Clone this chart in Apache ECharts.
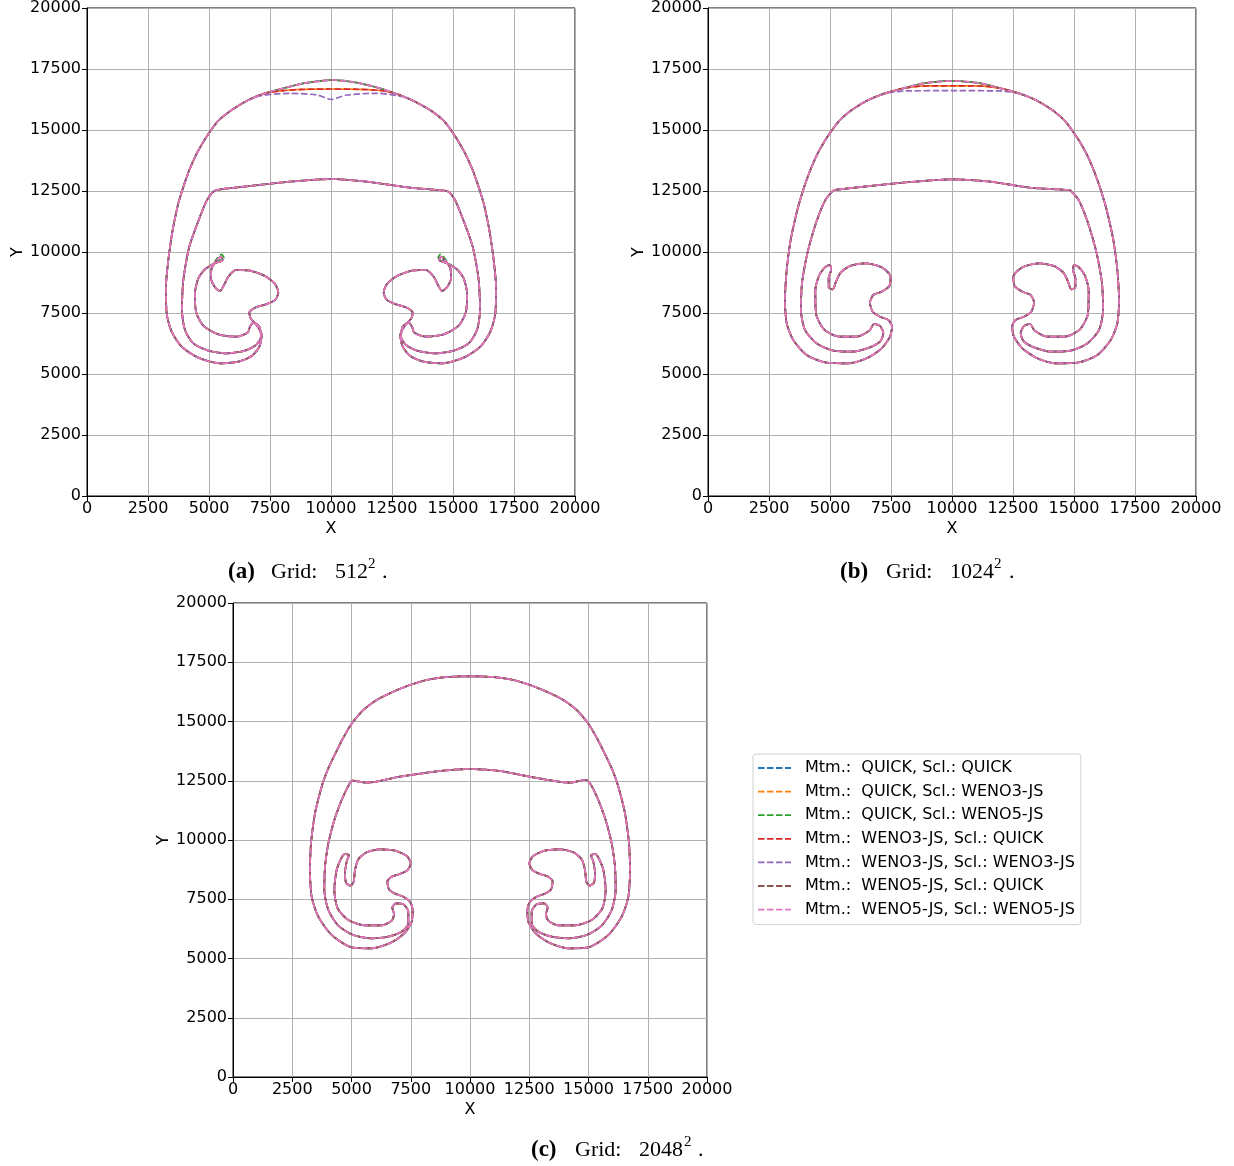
<!DOCTYPE html>
<html>
<head>
<meta charset="utf-8">
<script src="https://cdn.jsdelivr.net/npm/echarts@6/dist/echarts.min.js"></script>
<style>
  html, body { margin: 0; padding: 0; background: #fff; }
  #chart { width: 1234px; height: 1166px; }
</style>
</head>
<body>
<div id="chart"></div>
<script>
// Axis ticks shared by all three panels
const TICKS = [0, 2500, 5000, 7500, 10000, 12500, 15000, 17500, 20000];

// Scheme combinations (momentum / scalar advection)
const SERIES_NAMES = [
  'Mtm.:  QUICK, Scl.: QUICK',
  'Mtm.:  QUICK, Scl.: WENO3-JS',
  'Mtm.:  QUICK, Scl.: WENO5-JS',
  'Mtm.:  WENO3-JS, Scl.: QUICK',
  'Mtm.:  WENO3-JS, Scl.: WENO3-JS',
  'Mtm.:  WENO5-JS, Scl.: QUICK',
  'Mtm.:  WENO5-JS, Scl.: WENO5-JS'
];

// ---------- Grid 512^2 ----------
// cap of the bubble, traversed right -> left
const domeA_main = [[15800,13380],[15520,14000],[15240,14500],[14950,14950],[14600,15400],[14057,15819],[13306,16230],[12623,16503],[12008,16708],[11188,16913],[10505,17022],[10027,17049],[9686,17022],[8866,16913],[8046,16708],[7295,16503],[6612,16230],[5929,15819],[5400,15400],[5050,14950],[4760,14500],[4480,14000],[4200,13380]];
const domeA_low  = [[15800,13380],[15520,14000],[15240,14500],[14950,14950],[14600,15400],[14057,15819],[13306,16230],[12623,16503],[12008,16620],[11188,16665],[10027,16680],[8866,16665],[8046,16615],[7295,16503],[6612,16230],[5929,15819],[5400,15400],[5050,14950],[4760,14500],[4480,14000],[4200,13380]];
const domeA_dip  = [[15800,13380],[15520,14000],[15240,14500],[14950,14950],[14600,15400],[14057,15819],[13306,16230],[12964,16366],[11871,16503],[10642,16435],[10027,16257],[9413,16435],[8320,16503],[7090,16400],[6612,16230],[5929,15819],[5400,15400],[5050,14950],[4760,14500],[4480,14000],[4200,13380]];
// left rotor: outer flank down, spiral in and out, up to the inner front
const leftA = [[3960,12700],[3743,11995],[3511,10902],[3333,9672],[3238,8580],[3265,7487],[3470,6735],[3880,6120],[4563,5670],[5451,5437],[6202,5505],[6749,5738],[7063,6120],[7158,6599],[6981,6968],[6708,7282],[6653,7514],[6885,7719],[7336,7855],[7705,8033],[7841,8334],[7705,8689],[7295,9017],[6680,9235],[6107,9263],[5792,8989],[5615,8648],[5451,8402],[5246,8552],[5082,8921],[5109,9331],[5314,9645],[5492,9809],[5560,9672],[5246,9536],[4836,9290],[4563,8921],[4426,8306],[4467,7555],[4768,6981],[5383,6626],[6107,6530],[6585,6694],[6680,6940],[6817,7104],[7063,6940],[7131,6530],[6926,6189],[6475,5957],[5724,5847],[4973,5957],[4358,6257],[4016,6804],[3893,7623],[3948,8853],[4194,10219],[4631,11448],[4904,12104],[5109,12405]];
// hook at the tip of the left roll for Mtm. QUICK / Scl. WENO5-JS
const tipA_left_weno5 = [[5330,9730],[5520,9900],[5610,9760],[5280,9590]];
// inner front, left -> right
const innerA = [[5314,12541],[6680,12705],[8320,12882],[10027,12992],[11462,12882],[13238,12637],[14741,12500]];
// right rotor: from the inner front down, spiral, out to the outer flank
const rightA = [[14891,12405],[15096,12104],[15369,11448],[15806,10219],[16052,8853],[16107,7623],[15984,6804],[15642,6257],[15027,5957],[14276,5847],[13525,5957],[13074,6189],[12869,6530],[12937,6940],[13183,7104],[13320,6940],[13415,6694],[13893,6530],[14617,6626],[15232,6981],[15533,7555],[15574,8306],[15437,8921],[15164,9290],[14754,9536],[14440,9672],[14508,9809],[14686,9645],[14891,9331],[14918,8921],[14754,8552],[14549,8402],[14385,8648],[14208,8989],[13893,9263],[13320,9235],[12705,9017],[12295,8689],[12159,8334],[12295,8033],[12664,7855],[13115,7719],[13347,7514],[13292,7282],[13019,6968],[12842,6599],[12937,6120],[13251,5738],[13798,5505],[14549,5437],[15437,5670],[16120,6120],[16530,6735],[16735,7487],[16762,8580],[16667,9672],[16489,10902],[16257,11995],[16040,12700]];
const tipA_right_weno5 = [[14720,9590],[14390,9760],[14480,9900],[14670,9730]];

// ---------- Grid 1024^2 ----------
const domeB_main = [[15830,13300],[15550,13950],[15260,14480],[14950,14950],[14600,15400],[14112,15819],[13429,16230],[12746,16503],[11995,16708],[11175,16913],[10355,17000],[10000,17008],[9645,17000],[8825,16913],[8005,16708],[7254,16503],[6571,16230],[5888,15819],[5400,15400],[5050,14950],[4740,14480],[4450,13950],[4170,13300]];
const domeB_low  = [[15830,13300],[15550,13950],[15260,14480],[14950,14950],[14600,15400],[14112,15819],[13429,16230],[12746,16503],[11995,16708],[11300,16795],[10000,16810],[8700,16795],[8005,16708],[7254,16503],[6571,16230],[5888,15819],[5400,15400],[5050,14950],[4740,14480],[4450,13950],[4170,13300]];
const domeB_dip  = [[15830,13300],[15550,13950],[15260,14480],[14950,14950],[14600,15400],[14112,15819],[13429,16230],[12746,16503],[11900,16600],[10000,16612],[8100,16600],[7254,16503],[6571,16230],[5888,15819],[5400,15400],[5050,14950],[4740,14480],[4450,13950],[4170,13300]];
const leftB = [[3920,12600],[3661,11722],[3388,10492],[3224,9263],[3156,8033],[3224,7077],[3497,6394],[4044,5779],[4863,5465],[5751,5437],[6503,5642],[7117,6053],[7459,6530],[7541,6940],[7391,7213],[7049,7350],[6749,7555],[6639,7924],[6776,8238],[7117,8375],[7432,8607],[7486,8989],[7117,9372],[6435,9536],[5820,9426],[5437,9153],[5246,8785],[5109,8470],[4945,8552],[4945,8921],[5041,9263],[5000,9468],[4795,9372],[4563,9057],[4399,8443],[4426,7487],[4754,6831],[5383,6530],[6093,6530],[6612,6776],[6803,7049],[7049,6968],[7186,6667],[7049,6325],[6639,6093],[5956,5916],[5137,5957],[4453,6257],[3975,6804],[3811,7623],[3852,8716],[4071,9946],[4426,11192],[4795,12104],[5137,12514]];
const innerB = [[5410,12569],[6639,12705],[8279,12869],[10014,12978],[11557,12883],[13197,12637],[14768,12541]];
const rightB = [[14863,12514],[15205,12104],[15574,11192],[15929,9946],[16148,8716],[16189,7623],[16025,6804],[15547,6257],[14863,5957],[14044,5916],[13361,6093],[12951,6325],[12814,6667],[12951,6968],[13197,7049],[13388,6776],[13907,6530],[14617,6530],[15246,6831],[15574,7487],[15601,8443],[15437,9057],[15205,9372],[15000,9468],[14959,9263],[15055,8921],[15055,8552],[14891,8470],[14754,8785],[14563,9153],[14180,9426],[13565,9536],[12883,9372],[12514,8989],[12568,8607],[12883,8375],[13224,8238],[13361,7924],[13251,7555],[12951,7350],[12609,7213],[12459,6940],[12541,6530],[12883,6053],[13497,5642],[14249,5437],[15137,5465],[15956,5779],[16503,6394],[16776,7077],[16844,8033],[16776,9263],[16612,10492],[16339,11722],[16080,12600]];

// ---------- Grid 2048^2 ----------
const domeC_main = [[15730,13550],[15380,14250],[15000,14900],[14501,15485],[13938,15907],[13235,16259],[12532,16540],[11828,16751],[11125,16864],[10422,16900],[10000,16900],[9578,16900],[8875,16864],[8172,16751],[7468,16540],[6765,16259],[6062,15907],[5499,15485],[5000,14900],[4620,14250],[4270,13550]];
const leftC = [[3990,12954],[3741,12251],[3460,11126],[3291,9860],[3249,8735],[3319,7609],[3601,6765],[4163,5992],[5007,5472],[5851,5429],[6695,5683],[7257,6090],[7539,6554],[7581,7047],[7468,7398],[7187,7609],[6807,7750],[6582,7919],[6512,8242],[6695,8453],[7046,8566],[7370,8735],[7497,9016],[7328,9327],[6836,9550],[6203,9607],[5640,9480],[5288,9185],[5148,8735],[5091,8242],[4951,8074],[4768,8200],[4726,8594],[4796,9086],[4895,9353],[4726,9410],[4585,9269],[4374,8735],[4276,7891],[4416,7117],[4866,6625],[5570,6400],[6273,6400],[6695,6597],[6793,6878],[6723,7145],[6878,7328],[7187,7286],[7398,6976],[7398,6484],[7117,6132],[6554,5921],[5851,5851],[5077,5992],[4444,6386],[4023,7047],[3854,7891],[3882,8875],[4023,9860],[4276,10844],[4585,11688],[4866,12279],[5035,12504]];
const innerC = [[5640,12419],[7046,12672],[8734,12911],[10000,12996],[11266,12911],[12672,12644],[14219,12419],[14852,12532]];
const rightC = [[14965,12504],[15134,12279],[15415,11688],[15724,10844],[15977,9860],[16118,8875],[16146,7891],[15977,7047],[15556,6386],[14923,5992],[14149,5851],[13446,5921],[12883,6132],[12602,6484],[12602,6976],[12813,7286],[13122,7328],[13277,7145],[13207,6878],[13305,6597],[13727,6400],[14430,6400],[15134,6625],[15584,7117],[15724,7891],[15626,8735],[15415,9269],[15274,9410],[15105,9353],[15204,9086],[15274,8594],[15232,8200],[15049,8074],[14909,8242],[14852,8735],[14712,9185],[14360,9480],[13797,9607],[13164,9550],[12672,9327],[12503,9016],[12630,8735],[12954,8566],[13305,8453],[13488,8242],[13418,7919],[13193,7750],[12813,7609],[12532,7398],[12419,7047],[12461,6554],[12743,6090],[13305,5683],[14149,5429],[14993,5472],[15837,5992],[16399,6765],[16681,7609],[16751,8735],[16709,9860],[16540,11126],[16259,12251],[16010,12954]];

// ---------- assembling closed contours ----------
function closedContour(dome, left, inner, right) {
  return dome.concat(left, inner, right, [dome[0]]);
}
// swap the four points of the roll tip (indices 31..34 on the left, 24..27 on the right)
const leftA_weno5 = leftA.slice(0, 31).concat(tipA_left_weno5, leftA.slice(35));
const rightA_weno5 = rightA.slice(0, 24).concat(tipA_right_weno5, rightA.slice(28));

const PANELS = [
  { // (a)
    grid: { left: 87, top: 8, width: 488, height: 488 },
    curves: [
      closedContour(domeA_main, leftA, innerA, rightA),
      closedContour(domeA_low,  leftA, innerA, rightA),
      closedContour(domeA_main, leftA_weno5, innerA, rightA_weno5),
      closedContour(domeA_low,  leftA, innerA, rightA),
      closedContour(domeA_dip,  leftA, innerA, rightA),
      closedContour(domeA_main, leftA, innerA, rightA),
      closedContour(domeA_main, leftA, innerA, rightA)
    ]
  },
  { // (b)
    grid: { left: 708, top: 8, width: 488, height: 488 },
    curves: [
      closedContour(domeB_main, leftB, innerB, rightB),
      closedContour(domeB_low,  leftB, innerB, rightB),
      closedContour(domeB_main, leftB, innerB, rightB),
      closedContour(domeB_low,  leftB, innerB, rightB),
      closedContour(domeB_dip,  leftB, innerB, rightB),
      closedContour(domeB_main, leftB, innerB, rightB),
      closedContour(domeB_main, leftB, innerB, rightB)
    ]
  },
  { // (c)
    grid: { left: 233, top: 603, width: 474, height: 474 },
    curves: [0,1,2,3,4,5,6].map(() => closedContour(domeC_main, leftC, innerC, rightC))
  }
];

const COLORS = ['#1f77b4', '#ff7f0e', '#2ca02c', '#d62728', '#9467bd', '#8c564b', '#e377c2'];
const SANS = '"DejaVu Sans", sans-serif';
const SERIF = '"Liberation Serif", serif';
// four short dashes, used as the legend key
const DASH_ICON = 'path://M0,0h6.5v1.8h-6.5zM9,0h6.5v1.8h-6.5zM18,0h6.5v1.8h-6.5zM27,0h6v1.8h-6z';

const grids = [], xAxes = [], yAxes = [], series = [];
PANELS.forEach((p, k) => {
  grids.push(Object.assign({ show: true, borderColor: '#000', borderWidth: 1, backgroundColor: 'transparent' }, p.grid));
  const common = {
    gridIndex: k, type: 'value', min: TICKS[0], max: TICKS[TICKS.length - 1],
    interval: TICKS[1] - TICKS[0],
    nameLocation: 'middle',
    nameTextStyle: { fontSize: 16, color: '#000', fontFamily: SANS },
    axisLine: { show: true, onZero: false, lineStyle: { color: '#000', width: 1 } },
    axisTick: { show: true, inside: false, length: 5, lineStyle: { color: '#000', width: 1 } },
    splitLine: { show: true, lineStyle: { color: '#b0b0b0', width: 1 } }
  };
  const label = (m) => ({ fontSize: 16, color: '#000', fontFamily: SANS, margin: m, formatter: (v) => String(v) });
  xAxes.push(Object.assign({}, common, { name: 'X', nameGap: 25, axisLabel: label(5) }));
  yAxes.push(Object.assign({}, common, { name: 'Y', nameGap: 57, axisLabel: label(6) }));
  p.curves.forEach((pts, i) => {
    series.push({
      type: 'line', name: SERIES_NAMES[i], xAxisIndex: k, yAxisIndex: k,
      data: pts, showSymbol: false, symbol: 'none', smooth: 0.25, silent: true,
      itemStyle: { color: COLORS[i] },
      lineStyle: { color: COLORS[i], width: 1.7, type: [6.5, 2.5], dashOffset: i * 1.3 }
    });
  });
});

// captions below each panel
function caption(letter, label, x, y, pos) {
  return [
    { type: 'text', x: x, y: y, style: { text: '(' + letter + ')', font: 'bold 23px ' + SERIF, fill: '#000', verticalAlign: 'middle' } },
    { type: 'text', x: pos[0], y: y, style: { text: 'Grid:', font: '22px ' + SERIF, fill: '#000', verticalAlign: 'middle' } },
    { type: 'text', x: pos[1], y: y, style: { text: label, font: '22px ' + SERIF, fill: '#000', verticalAlign: 'middle' } },
    { type: 'text', x: pos[2], y: y - 8, style: { text: '2', font: '15px ' + SERIF, fill: '#000', verticalAlign: 'middle' } },
    { type: 'text', x: pos[3], y: y, style: { text: '.', font: '22px ' + SERIF, fill: '#000', verticalAlign: 'middle' } }
  ];
}

const chart = echarts.init(document.getElementById('chart'), null, { renderer: 'canvas' });
chart.setOption({
  animation: false,
  backgroundColor: '#fff',
  grid: grids,
  xAxis: xAxes,
  yAxis: yAxes,
  series: series,
  legend: {
    data: SERIES_NAMES.map((n) => ({ name: n, icon: DASH_ICON })),
    orient: 'vertical',
    left: 753, top: 754,
    itemWidth: 33, itemHeight: 1.8, itemGap: 7.6,
    padding: [6, 6, 7, 5],
    backgroundColor: '#fff', borderColor: '#d0d0d0', borderWidth: 1, borderRadius: 3,
    selectedMode: false,
    textStyle: { fontSize: 16, fontFamily: SANS, color: '#000', lineHeight: 16, padding: [0, 0, 0, 9] }
  },
  graphic: [].concat(
    caption('a', '512', 228, 572, [271, 335, 368, 382]),
    caption('b', '1024', 840, 572, [886, 950, 994, 1009]),
    caption('c', '2048', 531, 1150, [575, 639, 684, 698])
  )
});
</script>
</body>
</html>
